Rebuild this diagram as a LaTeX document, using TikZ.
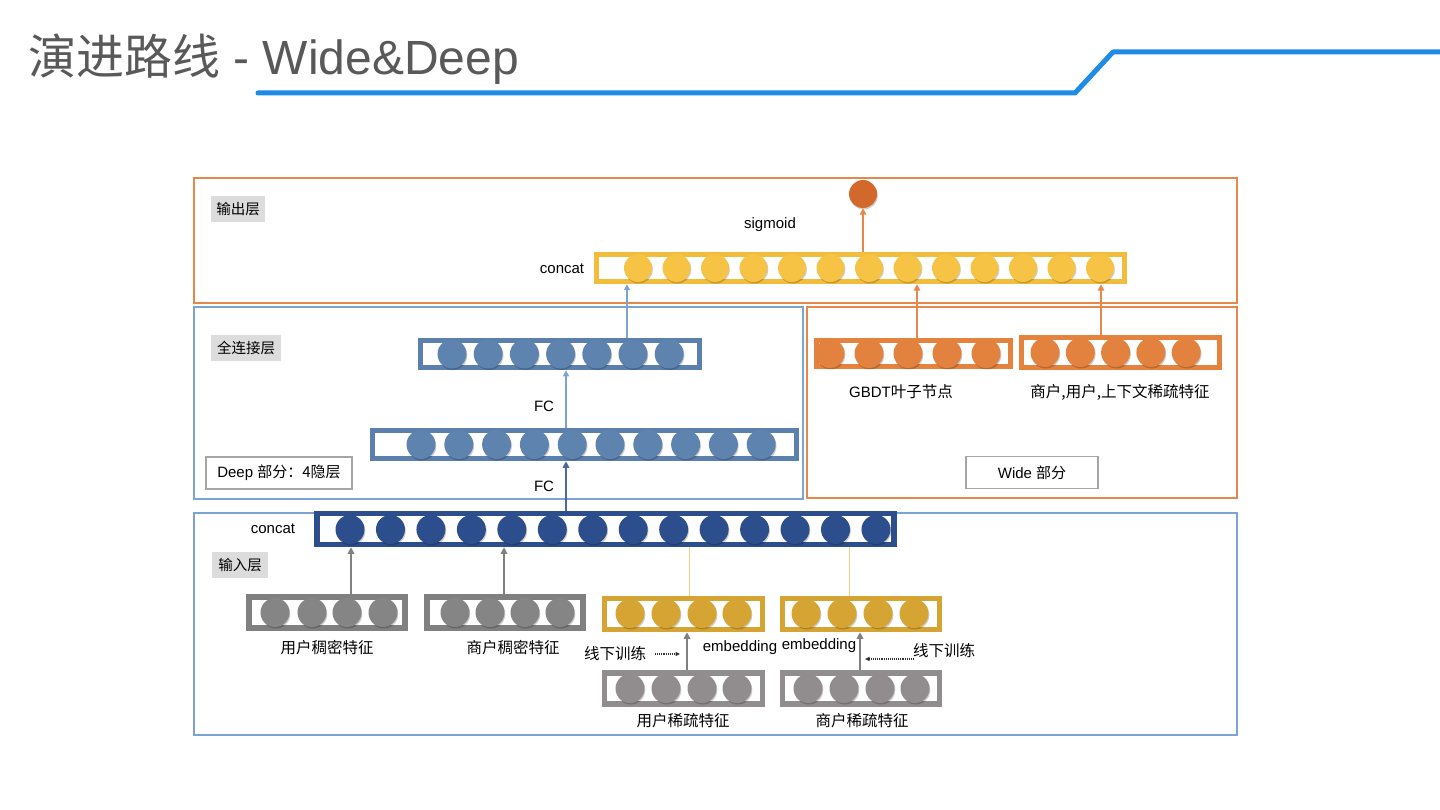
\documentclass[tikz,border=0pt]{standalone}
\usepackage{fontspec}
\setmainfont{Liberation Sans}
\newfontfamily\cjk{Noto Sans CJK SC}
\usetikzlibrary{arrows.meta,shadows}
\definecolor{titlegray}{HTML}{595959}
\definecolor{lineblue}{HTML}{1E8BE6}
\definecolor{frameorange}{HTML}{E8874A}
\definecolor{frameblue}{HTML}{7BA3D3}
\definecolor{ybar}{HTML}{F4BC3C}
\definecolor{ycirc}{HTML}{F6C344}
\definecolor{sigcol}{HTML}{D2692A}
\definecolor{fcbar}{HTML}{5B80AD}
\definecolor{fccirc}{HTML}{5E83AE}
\definecolor{wbar}{HTML}{E4823E}
\definecolor{wcirc}{HTML}{E3823F}
\definecolor{dkblue}{HTML}{2C4E8C}
\definecolor{dgray}{HTML}{808080}
\definecolor{dgcirc}{HTML}{858585}
\definecolor{gold}{HTML}{D6A432}
\definecolor{sgray}{HTML}{918C8E}
\definecolor{labelbg}{HTML}{DCDCDC}
\definecolor{thinyellow}{HTML}{F2D27A}
\begin{document}
\begin{tikzpicture}[x=1pt,y=-1pt,
  bar/.style={draw=#1, line width=5.5pt, inner sep=0pt, fill=white},
  circ/.style={circle, inner sep=0pt, minimum size=28pt, fill=#1, draw=none,
    drop shadow={shadow xshift=0.8pt, shadow yshift=-1.5pt, opacity=0.2, fill=black}},
  circs/.style={circ=#1, minimum size=29pt},
  frame/.style={draw=#1, line width=1.6pt},
  tag/.style={fill=labelbg, inner sep=0pt, minimum height=26pt, font=\cjk\fontsize{14.5}{16}\selectfont, text=black},
  partbox/.style={draw=gray!70, line width=1.5pt, fill=white, inner sep=0pt, minimum height=32pt, text=black},
  lbl/.style={font=\fontsize{15}{17}\selectfont, text=black, inner sep=0pt},
  clbl/.style={font=\cjk\fontsize{15.5}{17}\selectfont, text=black, inner sep=0pt},
  arr/.style={draw=#1, line width=2pt, -{Triangle[length=6.5pt,width=6.5pt]}},
  tharr/.style={draw=#1, line width=1.5pt, -{Triangle[length=6pt,width=6pt]}},
  dotarr/.style={draw=black!80, line width=1.1pt, densely dotted, -{Triangle[length=4.5pt,width=4pt]}}
]
\fill[white] (0,0) rectangle (1440,810);
\useasboundingbox (0,0) rectangle (1440,810);

% title
\node[anchor=west, inner sep=0pt, text=titlegray, font=\fontsize{48}{52}\selectfont] (title) at (28,59) {{\cjk 演进路线} - Wide\&Deep};
\draw[lineblue, line width=5pt, line cap=round, line join=round] (258,93) -- (1075,93) -- (1113,52) -- (1442,52);

% frames
\draw[frame=frameorange] (194,178) rectangle (1237,303);
\draw[frame=frameblue] (194,307) rectangle (803,499);
\draw[frame=frameorange] (807,307) rectangle (1237,498);
\draw[frame=frameblue] (194,513) rectangle (1237,735);

% output layer
\node[tag, minimum width=54pt] (outtag) at (238,209) {输出层};
\node[circ=sigcol, minimum size=28pt] (sig) at (863,194) {};
\node[lbl] (sigtxt) at (770,225) {sigmoid};
\node[bar=ybar, minimum width=528pt, minimum height=27pt] (ocat) at (860.5,268) {};
\foreach \k in {0,...,12} \node[circ=ycirc] (oc\k) at ({638+38.5*\k},268) {};
\node[lbl] (ocattxt) at (562,269) {concat};
\coordinate (xsig) at (863,0);
\draw[arr=frameorange] (ocat.north -| xsig) -- (sig.south);

% deep part
\node[tag, minimum width=70pt] (fctag) at (246,348) {全连接层};
\node[bar=fcbar, minimum width=279pt, minimum height=27pt] (fc2) at (560,354) {};
\foreach \k in {0,...,6} \node[circs=fccirc] (f2c\k) at ({452+36.2*\k},354) {};
\node[bar=fcbar, minimum width=424pt, minimum height=28pt] (fc1) at (584.5,444.5) {};
\foreach \k in {0,...,9} \node[circs=fccirc] (f1c\k) at ({421+37.8*\k},444.5) {};
\node[lbl] (fctxt2) at (544,406) {FC};
\node[lbl] (fctxt1) at (544,486) {FC};
\node[partbox, minimum width=146pt, font=\fontsize{15}{17}\selectfont] (deepbox) at (279,473) {Deep {\cjk 部分：4隐层}};
\coordinate (xfc) at (566,0);
\coordinate (xdeep) at (627,0);
\draw[tharr=frameblue] (fc1.north -| xfc) -- (fc2.south -| xfc);
\draw[tharr=frameblue] (fc2.north -| xdeep) -- (ocat.south -| xdeep);

% wide part
\node[bar=wbar, minimum width=194pt, minimum height=26pt] (gbdt) at (913.5,353.5) {};
\foreach \k in {0,...,4} \node[circs=wcirc] (gc\k) at ({830+39*\k},353.5) {};
\node[bar=wbar, minimum width=198pt, minimum height=30pt] (wsp) at (1120.5,352.5) {};
\foreach \k in {0,...,4} \node[circs=wcirc] (wc\k) at ({1045+35.3*\k},352.5) {};
\node[lbl] (gbdttxt) at (901,392) {GBDT{\cjk\fontsize{15.5}{17}\selectfont 叶子节点}};
\node[clbl] (wsptxt) at (1120,392) {商户,用户,上下文稀疏特征};
\node[partbox, minimum width=132pt, font=\fontsize{15}{17}\selectfont] (widebox) at (1032,472.5) {Wide {\cjk 部分}};
\coordinate (xg) at (917,0);
\coordinate (xw) at (1101,0);
\draw[arr=frameorange] (gbdt.north -| xg) -- (ocat.south -| xg);
\draw[arr=frameorange] (wsp.north -| xw) -- (ocat.south -| xw);

% input layer
\node[tag, minimum width=56pt] (intag) at (240,565) {输入层};
\node[bar=dkblue, minimum width=577pt, minimum height=31pt] (icat) at (605.5,529) {};
\foreach \k in {0,...,13} \node[circs=dkblue] (ic\k) at ({350+40.46*\k},529.5) {};
\node[lbl] (icattxt) at (273,529) {concat};
\draw[line width=2.5pt, draw=dkblue!85, -{Triangle[length=6.5pt,width=6.5pt]}] (icat.north -| xfc) -- (fc1.south -| xfc);

% dense
\node[bar=dgray, minimum width=156pt, minimum height=31pt] (ud) at (327,612.5) {};
\foreach \x [count=\k] in {275,312,347,383} \node[circs=dgcirc] (udc\k) at (\x,612.5) {};
\node[bar=dgray, minimum width=156pt, minimum height=31pt] (md) at (505,612.5) {};
\foreach \x [count=\k] in {455,490,525,560} \node[circs=dgcirc] (mdc\k) at (\x,612.5) {};
\node[clbl] (udtxt) at (327,648) {用户稠密特征};
\node[clbl] (mdtxt) at (513,648) {商户稠密特征};
\coordinate (xud) at (351,0);
\coordinate (xmd) at (504,0);
\draw[arr=dgray] (ud.north -| xud) -- (icat.south -| xud);
\draw[arr=dgray] (md.north -| xmd) -- (icat.south -| xmd);

% embeddings
\node[bar=gold, minimum width=158pt, minimum height=31pt] (ue) at (683.5,614) {};
\foreach \x [count=\k] in {630,666,702,737} \node[circs=gold] (uec\k) at (\x,613.5) {};
\node[bar=gold, minimum width=157pt, minimum height=31pt] (me) at (861,614) {};
\foreach \x [count=\k] in {806,842,878,914} \node[circs=gold] (mec\k) at (\x,613.5) {};
\coordinate (xue) at (689,0);
\coordinate (xme) at (849,0);
\draw[thinyellow, line width=0.8pt] (ue.north -| xue) -- (icat.south -| xue);
\draw[thinyellow, line width=0.8pt] (me.north -| xme) -- (icat.south -| xme);

% sparse
\node[bar=sgray, minimum width=158pt, minimum height=31pt] (us) at (683.5,688.5) {};
\foreach \x [count=\k] in {630,666,702,737} \node[circs=sgray] (usc\k) at (\x,688.5) {};
\node[bar=sgray, minimum width=157pt, minimum height=31pt] (ms) at (861,688.5) {};
\foreach \x [count=\k] in {808,844,880,915} \node[circs=sgray] (msc\k) at (\x,688.5) {};
\node[clbl] (ustxt) at (683,721) {用户稀疏特征};
\node[clbl] (mstxt) at (862,721) {商户稀疏特征};
\coordinate (xus) at (687,0);
\coordinate (xms) at (860,0);
\draw[arr=dgray] (us.north -| xus) -- (ue.south -| xus);
\draw[arr=dgray] (ms.north -| xms) -- (me.south -| xms);

% embedding labels and offline training
\node[lbl] (emb1) at (740,648) {embedding};
\node[lbl] (emb2) at (819,646) {embedding};
\node[clbl] (off1) at (615,654) {线下训练};
\node[clbl] (off2) at (944,651) {线下训练};
\coordinate (d1) at (680,654);
\coordinate (d2) at (865,659);
\coordinate (d1s) at (655,654);
\coordinate (d2s) at (914,659);
\draw[dotarr] (d1s) -- (d1);
\draw[dotarr] (d2s) -- (d2);
\end{tikzpicture}
\end{document}
